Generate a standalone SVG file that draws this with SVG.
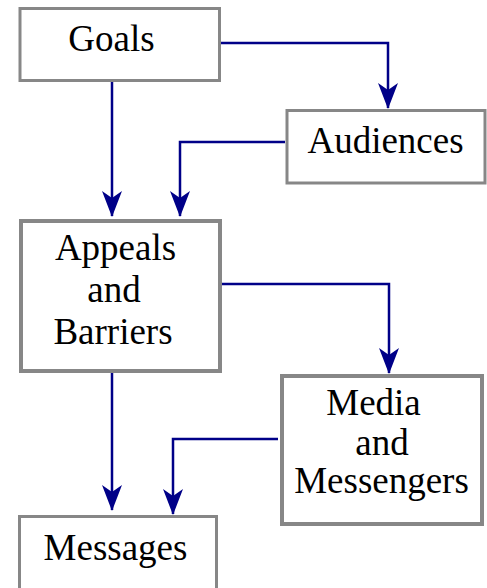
<svg xmlns="http://www.w3.org/2000/svg" width="487" height="588" viewBox="0 0 487 588">
<defs>
<marker id="arr" markerUnits="userSpaceOnUse" markerWidth="26" markerHeight="20" viewBox="0 0 26 20" refX="25" refY="10" orient="auto">
<path d="M0,0 L26,10 L0,20 L7,10 z" fill="#000088"/>
</marker>
<style>
.box{fill:#fff;stroke:#878787}
.t{font-family:"Liberation Serif","Times New Roman",serif;font-size:37px;fill:#000;text-anchor:middle}
.c{fill:none;stroke:#000088;stroke-width:2.5;marker-end:url(#arr)}
</style>
</defs>
<rect width="487" height="588" fill="#fff"/>
<g id="connectors">
<path class="c" d="M112,81 V216"/>
<path class="c" d="M220,43 H388 V108"/>
<path class="c" d="M285,142 H180 V216"/>
<path class="c" d="M222,284 H389 V373"/>
<path class="c" d="M112,373 V510"/>
<path class="c" d="M278,439 H173 V514"/>
</g>
<g id="goals">
<rect class="box" x="20" y="8.5" width="199.5" height="72" stroke-width="3"/>
<text class="t" x="111.5" y="50.5">Goals</text>
</g>
<g id="audiences">
<rect class="box" x="287" y="110.5" width="198" height="72.5" stroke-width="3"/>
<text class="t" x="385.5" y="153.3">Audiences</text>
</g>
<g id="appeals">
<rect class="box" x="21" y="221" width="199" height="150" stroke-width="4"/>
<text class="t" x="115.5" y="260">Appeals</text>
<text class="t" x="114" y="302">and</text>
<text class="t" x="113" y="344">Barriers</text>
</g>
<g id="media">
<rect class="box" x="282" y="376" width="200" height="148" stroke-width="4"/>
<text class="t" x="373.5" y="415">Media</text>
<text class="t" x="382" y="455">and</text>
<text class="t" x="381.5" y="493">Messengers</text>
</g>
<g id="messages">
<rect class="box" x="19.5" y="516.5" width="197" height="100" stroke-width="3"/>
<text class="t" x="115.5" y="560">Messages</text>
</g>
</svg>
